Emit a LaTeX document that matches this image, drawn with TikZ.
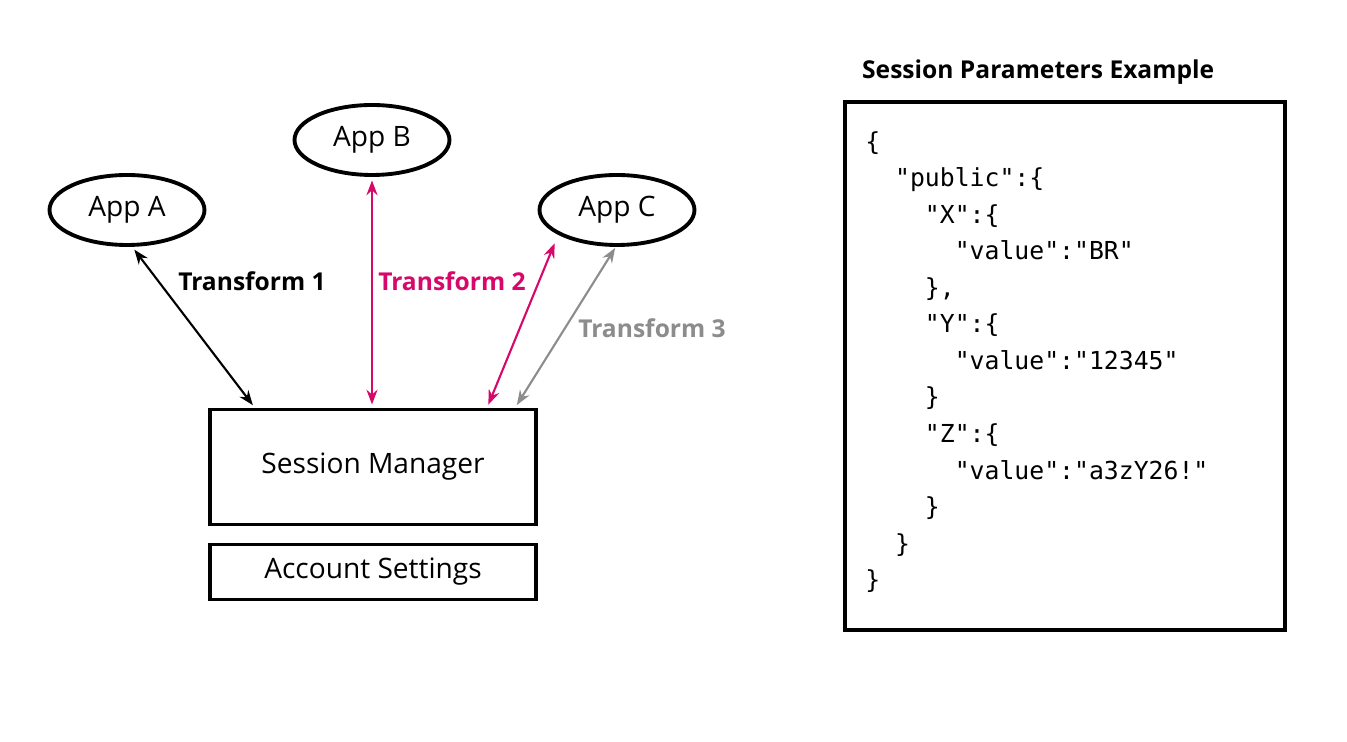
\documentclass[tikz,border=0pt]{standalone}
\usepackage{fontspec}
\setmainfont{Open Sans}
\newfontfamily\codefont{DejaVu Sans Mono}
\usetikzlibrary{shapes.geometric, positioning, arrows.meta}
\definecolor{tmag}{HTML}{D6096B}
\definecolor{tgray}{HTML}{8C8C8C}
\begin{document}
\begin{tikzpicture}[x=0.02cm, y=-0.02cm, line width=1.5pt,
  app/.style={ellipse, draw, line width=2.2pt, minimum width=3.1cm, minimum height=1.4cm, font=\fontsize{16}{19}\selectfont},
  box/.style={draw, line width=2.2pt, minimum width=6.52cm, font=\fontsize{16}{19}\selectfont},
  conn/.style={Stealth-Stealth, line width=1.2pt, shorten <=2pt, shorten >=2pt},
  lbl/.style={font=\bfseries\fontsize{14}{17}\selectfont}]

\useasboundingbox (0,0) rectangle (1347,742);

% apps
\node[app] (appA) at (127,210) {App A};
\node[app] (appB) at (372,140) {App B};
\node[app] (appC) at (617,210) {App C};

% manager and settings
\node[box, minimum height=2.3cm] (sm) at (373,467) {Session Manager};
\node[box, minimum height=1.1cm] (as) at (373,572) {Account Settings};

\coordinate (smA) at (255,408);
\coordinate (smB) at (372,408);
\coordinate (smC) at (487,408);
\coordinate (smG) at (515,408);
\coordinate (cC) at (556,240);
\coordinate (cG) at (617,245);

\draw[conn] (appA.-82) -- (smA);
\draw[conn, tmag] (appB.south) -- (smB);
\draw[conn, tmag] (cC) -- (smC);
\draw[conn, tgray] (cG) -- (smG);

\node[lbl] (t1) at (252,281) {Transform 1};
\node[lbl, tmag] (t2) at (452,281) {Transform 2};
\node[lbl, tgray] (t3) at (652,328) {Transform 3};

% parameters
\node[lbl, anchor=west] (title) at (855,72) {Session Parameters Example};
\draw[line width=2.2pt] (845,102) rectangle (1285,630);
\node[anchor=north west, inner sep=0pt, align=left, font=\codefont\fontsize{14.1}{20.8}\selectfont] (code) at (864,130) {%
\{\\
\ \ "public":\{\\
\ \ \ \ "X":\{\\
\ \ \ \ \ \ "value":"BR"\\
\ \ \ \ \},\\
\ \ \ \ "Y":\{\\
\ \ \ \ \ \ "value":"12345"\\
\ \ \ \ \}\\
\ \ \ \ "Z":\{\\
\ \ \ \ \ \ "value":"a3zY26!"\\
\ \ \ \ \}\\
\ \ \}\\
\}};
\end{tikzpicture}
\end{document}
